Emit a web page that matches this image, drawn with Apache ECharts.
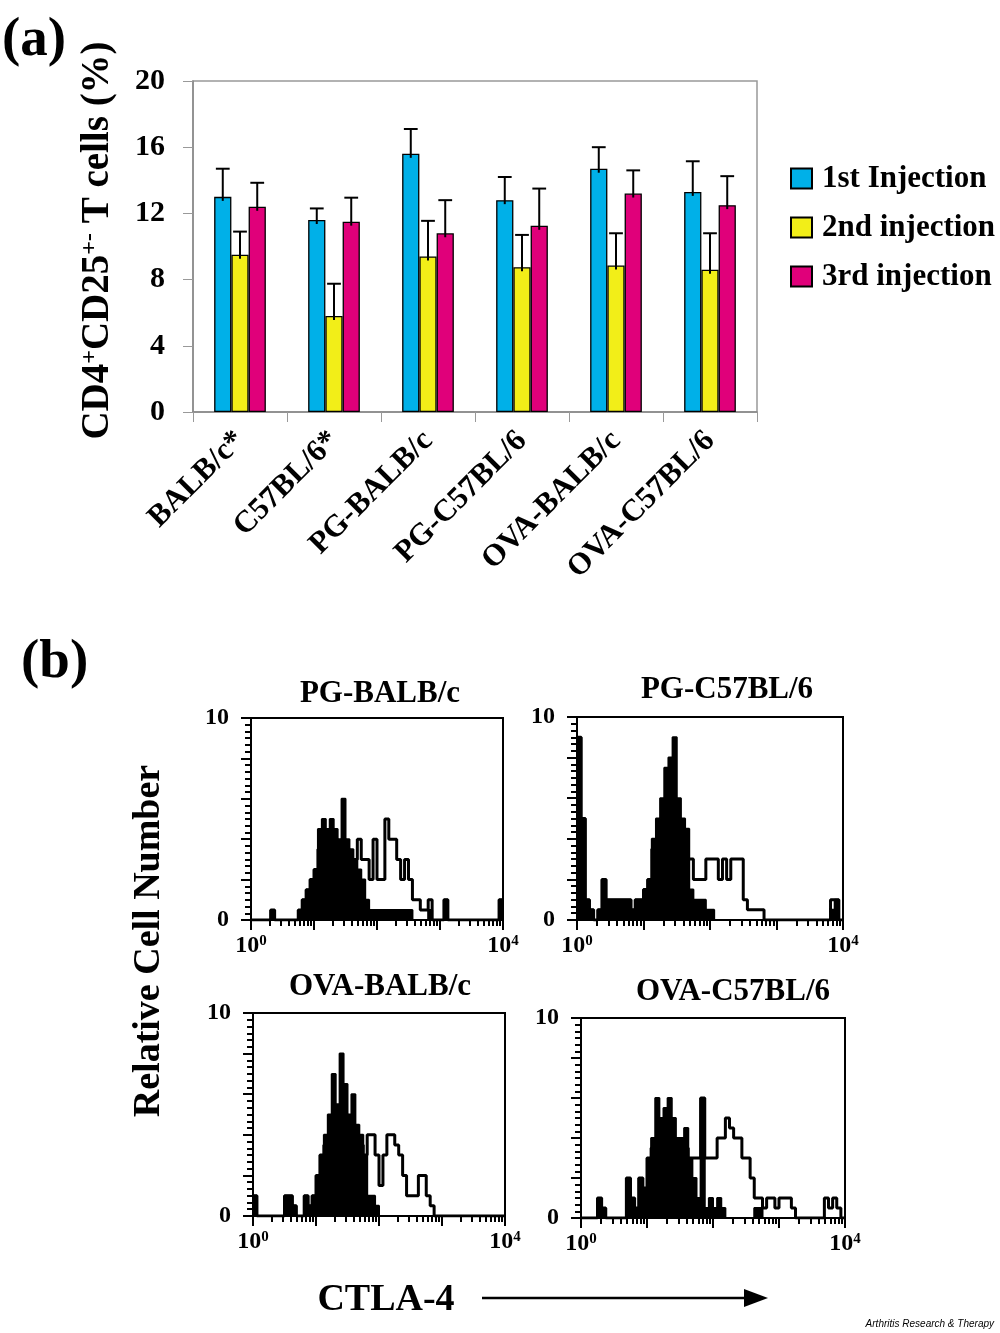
<!DOCTYPE html>
<html><head><meta charset="utf-8">
<script src="https://cdn.jsdelivr.net/npm/echarts/dist/echarts.min.js"></script>
<style>html,body{margin:0;padding:0;background:#fff}#c{width:1000px;height:1333px}</style>
</head><body><div id="c"></div>
<script>
// ---------- Panel (a) data ----------
const barCategories = ['BALB/c*', 'C57BL/6*', 'PG-BALB/c', 'PG-C57BL/6', 'OVA-BALB/c', 'OVA-C57BL/6'];
const seriesNames = ['1st Injection', '2nd injection', '3rd injection'];
const inj1 = [13.0, 11.6, 15.6, 12.8, 14.7, 13.3];
const inj1Err = [1.7, 0.7, 1.5, 1.4, 1.3, 1.85];
const inj2 = [9.5, 5.8, 9.4, 8.75, 8.85, 8.6];
const inj2Err = [1.4, 1.95, 2.15, 1.95, 1.95, 2.2];
const inj3 = [12.4, 11.5, 10.8, 11.25, 13.2, 12.5];
const inj3Err = [1.45, 1.45, 2.0, 2.25, 1.4, 1.75];
const yTicksA = [0, 4, 8, 12, 16, 20];

// ---------- Panel (b) data: 64 log bins from 10^0 to 10^4 ----------
const histTitles = ['PG-BALB/c', 'PG-C57BL/6', 'OVA-BALB/c', 'OVA-C57BL/6'];
const pgBalbFilled = [0,0,0,0,0,0.5,0,0,0,0,
 0,0,0.5,1,1.5,2,2.5,4.5,5,4.5,
 5,4.5,4,6,4,3.5,3,2.5,2,1,
 0.5,0.5,0.5,0.5,0.5,0.5,0.5,0.5,0.5,0.5,
 0.5,0,0,0,0,0.5,0,0,0,1,
 0,0,0,0,0,0,0,0,0,0,
 0,0,0,1];
const pgBalbOutline = [0,0,0,0,0,0.5,0,0,0,0,
 0,0,0.5,1,1.5,2,2.5,3.5,4,4,
 4,4,3.5,4,3.5,3,3,4,3,3,
 2,4,2,2,5,4,4,3,2,3,
 2,1,1,0.5,0.5,1,0,0,0,1,
 0,0,0,0,0,0,0,0,0,0,
 0,0,0,1];
const pgC57Filled = [9,5,1,0.5,0,0.5,2,1,1,1,
 1,1,1,0.5,1,1,1.5,2,4,5,
 6,7.5,8,9,6,5,4.5,1.5,1,1,
 1,0.5,0.5,0,0,0,0,0,0,0,
 0,0,0,0,0,0,0,0,0,0,
 0,0,0,0,0,0,0,0,0,0,
 0,0.5,1,0];
const pgC57Outline = [9,5,1,0.5,0,0.5,2,1,1,1,
 1,1,1,0.5,1,1,1.5,2,3.5,4,
 4.5,5,5,5,4.5,4,3,3,2,2,
 2,3,3,3,2,3,2,3,3,3,
 1,0.5,0.5,0.5,0.5,0,0,0,0,0,
 0,0,0,0,0,0,0,0,0,0,
 0,1,1,0];
const ovaBalbFilled = [1,0,0,0,0,0,0,0,1,1,
 0.5,0,0,1,0.5,1,2,3,4,5,
 7,5.5,8,6.5,5,6,4.5,4,3,1,
 1,0.5,0,0,0,0,0,0,0,0,
 0,0,0,0,0,0,0,0,0,0,
 0,0,0,0,0,0,0,0,0,0,
 0,0,0,0];
const ovaBalbOutline = [1,0,0,0,0,0,0,0,1,1,
 0.5,0,0,1,0.5,1,2,3,3.5,4,
 4.5,4.5,5,5,4.5,4.5,4,3.5,3,4,
 4,3,1.5,3,4,4,3.5,3,2,1,
 1,1,2,2,1,0.5,0,0,0,0,
 0,0,0,0,0,0,0,0,0,0,
 0,0,0,0];
const ovaC57Filled = [0,0,0,0,1,0.5,0,0,0,0,
 0,2,1,0.5,2,1.5,3,4,6,5,
 5.5,6,5,4,4,4.5,3,2,1,6,
 0.5,1,0.5,1,0.5,0,0,0,0,0,
 0,0,0.5,0.5,0,0,0,0,0,0,
 0,0,0,0,0,0,0,0,0,0,
 0,0,0,0];
const ovaC57Outline = [0,0,0,0,1,0.5,0,0,0,0,
 0,2,1,0.5,2,1.5,3,3.5,4,4,
 4.5,4.5,4,3.5,3.5,3.5,3,3,3,6,
 3,3,3,4,4,5,4.5,4,4,3,
 3,2,1,1,0.5,1,1,0.5,1,1,
 1,0.5,0,0,0,0,0,0,0,1,
 0.5,1,0.5,0];
const histFilled = [pgBalbFilled, pgC57Filled, ovaBalbFilled, ovaC57Filled];
const histOutline = [pgBalbOutline, pgC57Outline, ovaBalbOutline, ovaC57Outline];

// ---------- layout / style ----------
const F = '"Liberation Serif", "Times New Roman", serif';
const colors = ['#00B0E8', '#F2EE18', '#E0007A'];
const histGrids = [
  {left: 251, top: 718, width: 252, height: 202},
  {left: 577, top: 717, width: 266, height: 203},
  {left: 253, top: 1013, width: 252, height: 203},
  {left: 581, top: 1018, width: 264, height: 200}
];
const histTitlePos = [[380, 694], [727, 690], [380, 987], [733, 992]];

const chart = echarts.init(document.getElementById('c'), null, {renderer: 'canvas'});

const vals = [inj1, inj2, inj3];
const errs = [inj1Err, inj2Err, inj3Err];
const CAT_GAP = 0.45;

const grids = [{left: 193, top: 81, width: 564, height: 331, show: true, borderColor: '#999', borderWidth: 1.5}];
const xAxes = [{
  type: 'category', gridIndex: 0, data: barCategories,
  axisLine: {lineStyle: {color: '#888', width: 1.5}},
  axisTick: {show: true, length: 10, lineStyle: {color: '#999', width: 1}},
  axisLabel: {interval: 0, rotate: 45, margin: 24, color: '#000', fontFamily: F, fontWeight: 'bold', fontSize: 31}
}];
const yAxes = [{
  type: 'value', gridIndex: 0, min: 0, max: 20, interval: 4,
  name: 'CD4{sup|+}CD25{sup|+-} T cells (%)', nameLocation: 'middle', nameRotate: 90, nameGap: 76,
  nameTextStyle: {color: '#000', fontFamily: F, fontWeight: 'bold', fontSize: 39, padding: [0, 0, 0, 12],
    rich: {sup: {color: '#000', fontFamily: F, fontWeight: 'bold', fontSize: 24, verticalAlign: 'top'}}},
  axisLine: {show: true, lineStyle: {color: '#888', width: 1.5}},
  axisTick: {show: true, length: 10, lineStyle: {color: '#999'}},
  splitLine: {show: false},
  axisLabel: {margin: 28, color: '#000', fontFamily: F, fontWeight: 'bold', fontSize: 30,
    formatter: v => yTicksA.includes(v) ? String(v) : ''}
}];

const series = [];
seriesNames.forEach((name, k) => {
  series.push({
    name, type: 'bar', xAxisIndex: 0, yAxisIndex: 0, data: vals[k],
    barGap: '0%', barCategoryGap: (CAT_GAP * 100) + '%',
    itemStyle: {color: colors[k], borderColor: '#000', borderWidth: 1.3}
  });
});
seriesNames.forEach((name, k) => {
  series.push({
    name: name + ' SD', type: 'custom', xAxisIndex: 0, yAxisIndex: 0, z: 5,
    data: vals[k].map((v, i) => [i, v, errs[k][i]]),
    encode: {x: 0, y: 1},
    renderItem: (params, api) => {
      const i = api.value(0), v = api.value(1), e = api.value(2);
      const base = api.coord([i, v]);
      const top = api.coord([i, v + e]);
      const band = api.size([1, 0])[0];
      const bw = band * (1 - CAT_GAP) / 3;
      const x = base[0] + (k - 1) * bw;
      const cap = bw * 0.8;
      return {type: 'group', children: [
        {type: 'line', shape: {x1: x, y1: base[1] + 4, x2: x, y2: top[1]}, style: {stroke: '#000', lineWidth: 2}},
        {type: 'line', shape: {x1: x - cap / 2, y1: top[1], x2: x + cap / 2, y2: top[1]}, style: {stroke: '#000', lineWidth: 2}}
      ]};
    }
  });
});

function binPoints(arr) {
  const n = arr.length;
  const pts = arr.map((v, i) => [Math.pow(10, i * 4 / n), v]);
  pts.push([10000, arr[n - 1]]);
  return pts;
}
const richX = {
  b: {color: '#000', fontFamily: F, fontWeight: 'bold', fontSize: 24},
  s: {color: '#000', fontFamily: F, fontWeight: 'bold', fontSize: 15, verticalAlign: 'top'}
};
histGrids.forEach((g, k) => {
  const gi = k + 1;
  grids.push(Object.assign({show: true, borderColor: '#000', borderWidth: 2}, g));
  xAxes.push({
    type: 'log', logBase: 10, gridIndex: gi, min: 1, max: 10000, splitNumber: 4,
    axisLine: {lineStyle: {color: '#000', width: 2}},
    axisTick: {show: true, length: 10, lineStyle: {color: '#000', width: 2}},
    minorTick: {show: true, splitNumber: 9, length: 6, lineStyle: {color: '#000', width: 2}},
    splitLine: {show: false}, minorSplitLine: {show: false},
    axisLabel: {margin: 14, rich: richX, showMinLabel: true, showMaxLabel: true,
      formatter: v => {
        const p = Math.round(Math.log10(v));
        if (Math.abs(Math.log10(v) - p) > 1e-6) return '';
        return (p === 0 || p === 4) ? '{b|10}{s|' + p + '}' : '';
      }}
  });
  yAxes.push({
    type: 'value', gridIndex: gi, min: 0, max: 10, interval: 2,
    axisLine: {show: true, lineStyle: {color: '#000', width: 2}},
    axisTick: {show: true, length: 10, lineStyle: {color: '#000', width: 2}},
    minorTick: {show: true, splitNumber: 6, length: 6, lineStyle: {color: '#000', width: 2}},
    splitLine: {show: false},
    axisLabel: {margin: 22, color: '#000', fontFamily: F, fontWeight: 'bold', fontSize: 24,
      formatter: v => (v === 0 || v === 10) ? String(v) : ''}
  });
  series.push({
    type: 'line', xAxisIndex: gi, yAxisIndex: gi, step: 'end', symbol: 'none', silent: true,
    data: binPoints(histFilled[k]),
    lineStyle: {color: '#000', width: 2}, areaStyle: {color: '#000', opacity: 1}, z: 2
  });
  series.push({
    type: 'line', xAxisIndex: gi, yAxisIndex: gi, step: 'end', symbol: 'none', silent: true,
    data: binPoints(histOutline[k]),
    lineStyle: {color: '#000', width: 3}, z: 3
  });
});

const graphics = [
  {type: 'text', x: 2, y: 41, style: {text: '(a)', font: 'bold 55px ' + F, fill: '#000', verticalAlign: 'middle'}},
  {type: 'text', x: 21, y: 663, style: {text: '(b)', font: 'bold 55px ' + F, fill: '#000', verticalAlign: 'middle'}},
  {type: 'text', x: 149, y: 941, rotation: Math.PI / 2,
    style: {text: 'Relative Cell Number', font: 'bold 38px ' + F, fill: '#000', align: 'center', verticalAlign: 'middle'}},
  {type: 'text', x: 386, y: 1300,
    style: {text: 'CTLA-4', font: 'bold 38px ' + F, fill: '#000', align: 'center', verticalAlign: 'middle'}},
  {type: 'line', shape: {x1: 482, y1: 1298, x2: 750, y2: 1298}, style: {stroke: '#000', lineWidth: 2.5}},
  {type: 'polygon', shape: {points: [[744, 1289], [768, 1298], [744, 1307]]}, style: {fill: '#000'}},
  {type: 'text', right: 6, top: 1319,
    style: {text: 'Arthritis Research & Therapy', font: 'italic 10px "Liberation Sans", Arial, sans-serif', fill: '#000'}}
];
histTitles.forEach((t, k) => {
  graphics.push({type: 'text', x: histTitlePos[k][0], y: histTitlePos[k][1],
    style: {text: t, font: 'bold 31px ' + F, fill: '#000', align: 'center', verticalAlign: 'middle'}});
});

chart.setOption({
  animation: false,
  backgroundColor: '#fff',
  grid: grids, xAxis: xAxes, yAxis: yAxes, series,
  legend: {
    data: seriesNames, orient: 'vertical', left: 785, top: 158,
    itemWidth: 21, itemHeight: 20, itemGap: 18, icon: 'rect',
    textStyle: {color: '#000', fontFamily: F, fontWeight: 'bold', fontSize: 31, lineHeight: 31, padding: [0, 0, 0, 5]}
  },
  graphic: graphics
});
</script></body></html>
